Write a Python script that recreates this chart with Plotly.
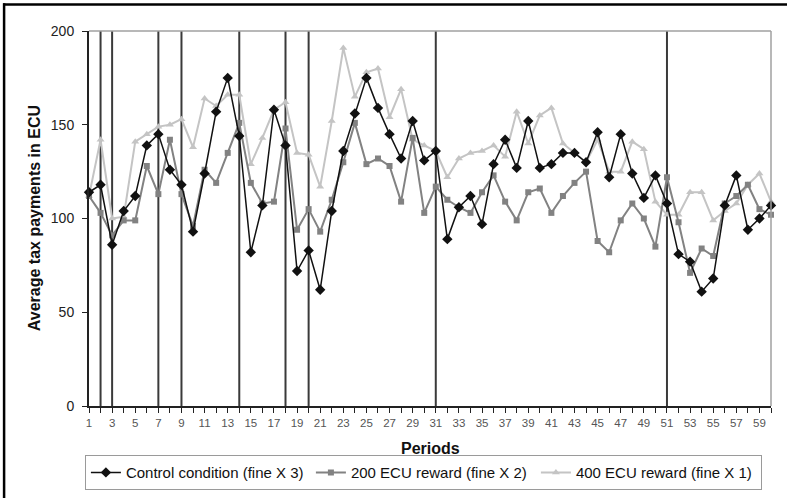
import plotly.graph_objects as go

periods = list(range(1, 61))
tick_labels = [str(p) if p % 2 == 1 else "" for p in periods]

control = [114, 118, 86, 104, 112, 139, 145, 126, 118, 93,
           124, 157, 175, 144, 82, 107, 158, 139, 72, 83,
           62, 104, 136, 156, 175, 159, 145, 132, 152, 131,
           136, 89, 106, 112, 97, 129, 142, 127, 152, 127,
           129, 135, 135, 130, 146, 122, 145, 124, 111, 123,
           108, 81, 77, 61, 68, 107, 123, 94, 100, 107]

reward200 = [112, 103, 91, 99, 99, 128, 113, 142, 113, 96,
             126, 119, 135, 151, 119, 108, 109, 148, 94, 105,
             93, 110, 130, 151, 129, 132, 128, 109, 143, 103,
             117, 110, 106, 103, 114, 123, 109, 99, 114, 116,
             103, 112, 119, 125, 88, 82, 99, 108, 100, 85,
             122, 98, 71, 84, 80, 108, 112, 118, 105, 102]

reward400 = [112, 142, 100, 101, 141, 145, 149, 150, 153, 138,
             164, 160, 166, 166, 129, 143, 158, 162, 135, 134,
             117, 152, 191, 165, 178, 180, 154, 169, 142, 139,
             136, 122, 132, 135, 136, 139, 133, 157, 140, 155,
             159, 140, 135, 130, 142, 125, 125, 141, 137, 109,
             102, 102, 114, 114, 99, 104, 108, 118, 124, 109]

marked_periods = [2, 3, 7, 9, 14, 18, 20, 31, 51]

series_names = ["Control condition (fine X 3)",
                "200 ECU reward (fine X 2)",
                "400 ECU reward (fine X 1)"]

FONT = "Liberation Sans, Arial, sans-serif"

fig = go.Figure()

fig.add_trace(go.Scatter(
    x=periods, y=reward400, name=series_names[2], mode="lines+markers",
    line=dict(color="#c4c4c4", width=2),
    marker=dict(symbol="triangle-up", size=7, color="#c4c4c4"),
    cliponaxis=False, legendrank=3))
fig.add_trace(go.Scatter(
    x=periods, y=reward200, name=series_names[1], mode="lines+markers",
    line=dict(color="#828282", width=2),
    marker=dict(symbol="square", size=6, color="#828282"),
    cliponaxis=False, legendrank=2))
fig.add_trace(go.Scatter(
    x=periods, y=control, name=series_names[0], mode="lines+markers",
    line=dict(color="#111111", width=1.5),
    marker=dict(symbol="diamond", size=8, color="#111111"),
    cliponaxis=False, legendrank=1))

for p in marked_periods:
    fig.add_shape(type="line", xref="x", yref="y", x0=p, x1=p, y0=0, y1=200,
                  line=dict(color="#3a3a3a", width=2), layer="below")

# plot-area border (top & right, gray)
fig.add_shape(type="line", xref="paper", yref="paper", x0=0, x1=1, y0=1, y1=1,
              line=dict(color="#a0a0a0", width=1.5))
fig.add_shape(type="line", xref="paper", yref="paper", x0=1, x1=1, y0=0, y1=1,
              line=dict(color="#a0a0a0", width=1.5))

# outer frame (top & left)
fig.add_shape(type="line", xref="paper", yref="paper", x0=-0.126, x1=1.03,
              y0=1.0707, y1=1.0707, line=dict(color="#000000", width=2.5))
fig.add_shape(type="line", xref="paper", yref="paper", x0=-0.1245, x1=-0.1245,
              y0=-0.26, y1=1.074, line=dict(color="#000000", width=2.5))

fig.add_annotation(text="<b>Periods</b>", xref="paper", yref="paper",
                   x=0.5, y=-0.112, xanchor="center", yanchor="middle",
                   showarrow=False, font=dict(family=FONT, size=16, color="#111111"))
fig.add_annotation(text="<b>Average tax payments in ECU</b>", xref="paper", yref="paper",
                   x=-0.0797, y=0.5, xanchor="center", yanchor="middle", textangle=-90,
                   showarrow=False, font=dict(family=FONT, size=16, color="#111111"))

fig.update_layout(
    width=787, height=498,
    margin=dict(l=89, r=16, t=31, b=92, autoexpand=False),
    paper_bgcolor="white", plot_bgcolor="white",
    font=dict(family=FONT, color="#111111"),
    showlegend=True,
    legend=dict(orientation="h", x=-0.006, xanchor="left", y=-0.131, yanchor="top",
                bordercolor="#9a9a9a", borderwidth=1, bgcolor="white",
                font=dict(family=FONT, size=15, color="#111111"),
                itemwidth=30, entrywidth=180, entrywidthmode="pixels",
                traceorder="normal"),
    xaxis=dict(range=[1, 60], tickmode="array", tickvals=periods, ticktext=tick_labels,
               ticks="outside", ticklen=5, tickwidth=1.2, tickcolor="#222222",
               showline=True, linecolor="#222222", linewidth=1.5,
               showgrid=False, zeroline=False,
               tickfont=dict(family=FONT, size=11.5, color="#555555")),
    yaxis=dict(range=[0, 200], tickmode="array", tickvals=[0, 50, 100, 150, 200],
               ticks="outside", ticklen=5, tickwidth=1.2, tickcolor="#222222",
               showline=True, linecolor="#222222", linewidth=2,
               showgrid=False, zeroline=False, ticklabelstandoff=5,
               tickfont=dict(family=FONT, size=14, color="#222222")),
)

fig.write_html("out.html", config={"displayModeBar": False},
               post_script="document.body.style.margin='0px';document.body.style.overflow='hidden';")
